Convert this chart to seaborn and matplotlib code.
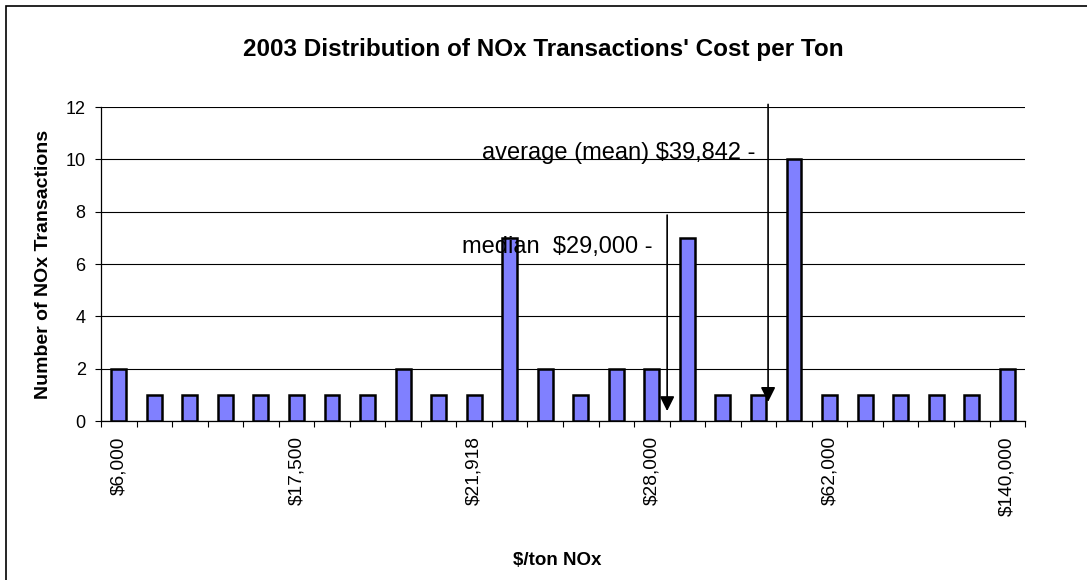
import numpy as np
import pandas as pd
import matplotlib
matplotlib.use("Agg")
import matplotlib.pyplot as plt
import matplotlib.patches as patches
import seaborn as sns

# data
bin_labels = ['$6,000', '', '', '', '', '$17,500', '', '', '', '', '$21,918', '', '', '',
              '', '$28,000', '', '', '', '', '$62,000', '', '', '', '', '$140,000']
counts = [2, 1, 1, 1, 1, 1, 1, 1, 2, 1, 1, 7, 2, 1, 2, 2, 7, 1, 1, 10, 1, 1, 1, 1, 1, 2]
yticks = [0, 2, 4, 6, 8, 10, 12]

mean_label = 'average (mean) $39,842 -'
median_label = 'median  $29,000 -'

data = pd.DataFrame({'bin': np.arange(len(counts)), 'count': counts})

sns.set_style('white')
plt.rcParams['font.family'] = ['Liberation Sans', 'DejaVu Sans']
plt.rcParams['text.color'] = 'black'
plt.rcParams['axes.labelcolor'] = 'black'
plt.rcParams['xtick.color'] = 'black'
plt.rcParams['ytick.color'] = 'black'

fig = plt.figure(figsize=(10.87, 5.80), dpi=100)
ax = fig.add_axes([0.0929, 0.2741, 0.8501, 0.5414])

sns.barplot(x='bin', y='count', data=data, color='#8080FF', saturation=1,
            width=0.42, edgecolor='black', linewidth=1.8, zorder=3, ax=ax)

ax.set_ylim(0, 12)
ax.set_xlim(-0.5, len(counts) - 0.5)
ax.set_yticks(yticks)
ax.grid(axis='y', color='black', linewidth=0.8, zorder=0)
for s in ['top', 'right']:
    ax.spines[s].set_visible(False)
for s in ['left', 'bottom']:
    ax.spines[s].set_color('black')
    ax.spines[s].set_linewidth(0.9)

ax.set_xticks(np.arange(len(counts)))
ax.set_xticklabels(bin_labels, rotation=90, fontsize=13.8)
ax.set_xticks(np.arange(len(counts) + 1) - 0.5, minor=True)
ax.tick_params(axis='x', which='major', length=0, pad=11)
ax.tick_params(axis='x', which='minor', bottom=True, length=4, width=0.8, color='black')
ax.tick_params(axis='y', left=True, length=4.5, width=0.8, color='black',
               labelsize=13, pad=6.5)

ax.set_xlabel('$/ton NOx', fontsize=13.5, fontweight='bold', va='center')
ax.xaxis.set_label_coords(0.4935, -0.443)
ax.set_ylabel('Number of NOx Transactions', fontsize=14, fontweight='bold', va='center')
ax.yaxis.set_label_coords(-0.062, 0.5)

fig.text(0.5, 0.914, "2003 Distribution of NOx Transactions' Cost per Ton",
         ha='center', va='center', fontsize=17.5, fontweight='bold')

# mean and median arrows
arrow = dict(arrowstyle='-|>', color='black', lw=1.2, mutation_scale=22,
             shrinkA=0, shrinkB=0)
ax.annotate('', xy=(18.27, 0.73), xytext=(18.27, 12.1), arrowprops=arrow,
            annotation_clip=False, zorder=5)
ax.annotate('', xy=(15.43, 0.38), xytext=(15.43, 7.87), arrowprops=arrow,
            zorder=5)
ax.text(17.9, 10.25, mean_label, ha='right', va='center', fontsize=17, zorder=6)
ax.text(15.03, 6.65, median_label, ha='right', va='center', fontsize=17, zorder=6)

# outer chart border
fig.patches.append(patches.Rectangle((0.0055, -0.05), 1.2, 1.0397,
                                     transform=fig.transFigure, fill=False,
                                     edgecolor='black', linewidth=1.2))

fig.savefig('out.png', dpi=100)
